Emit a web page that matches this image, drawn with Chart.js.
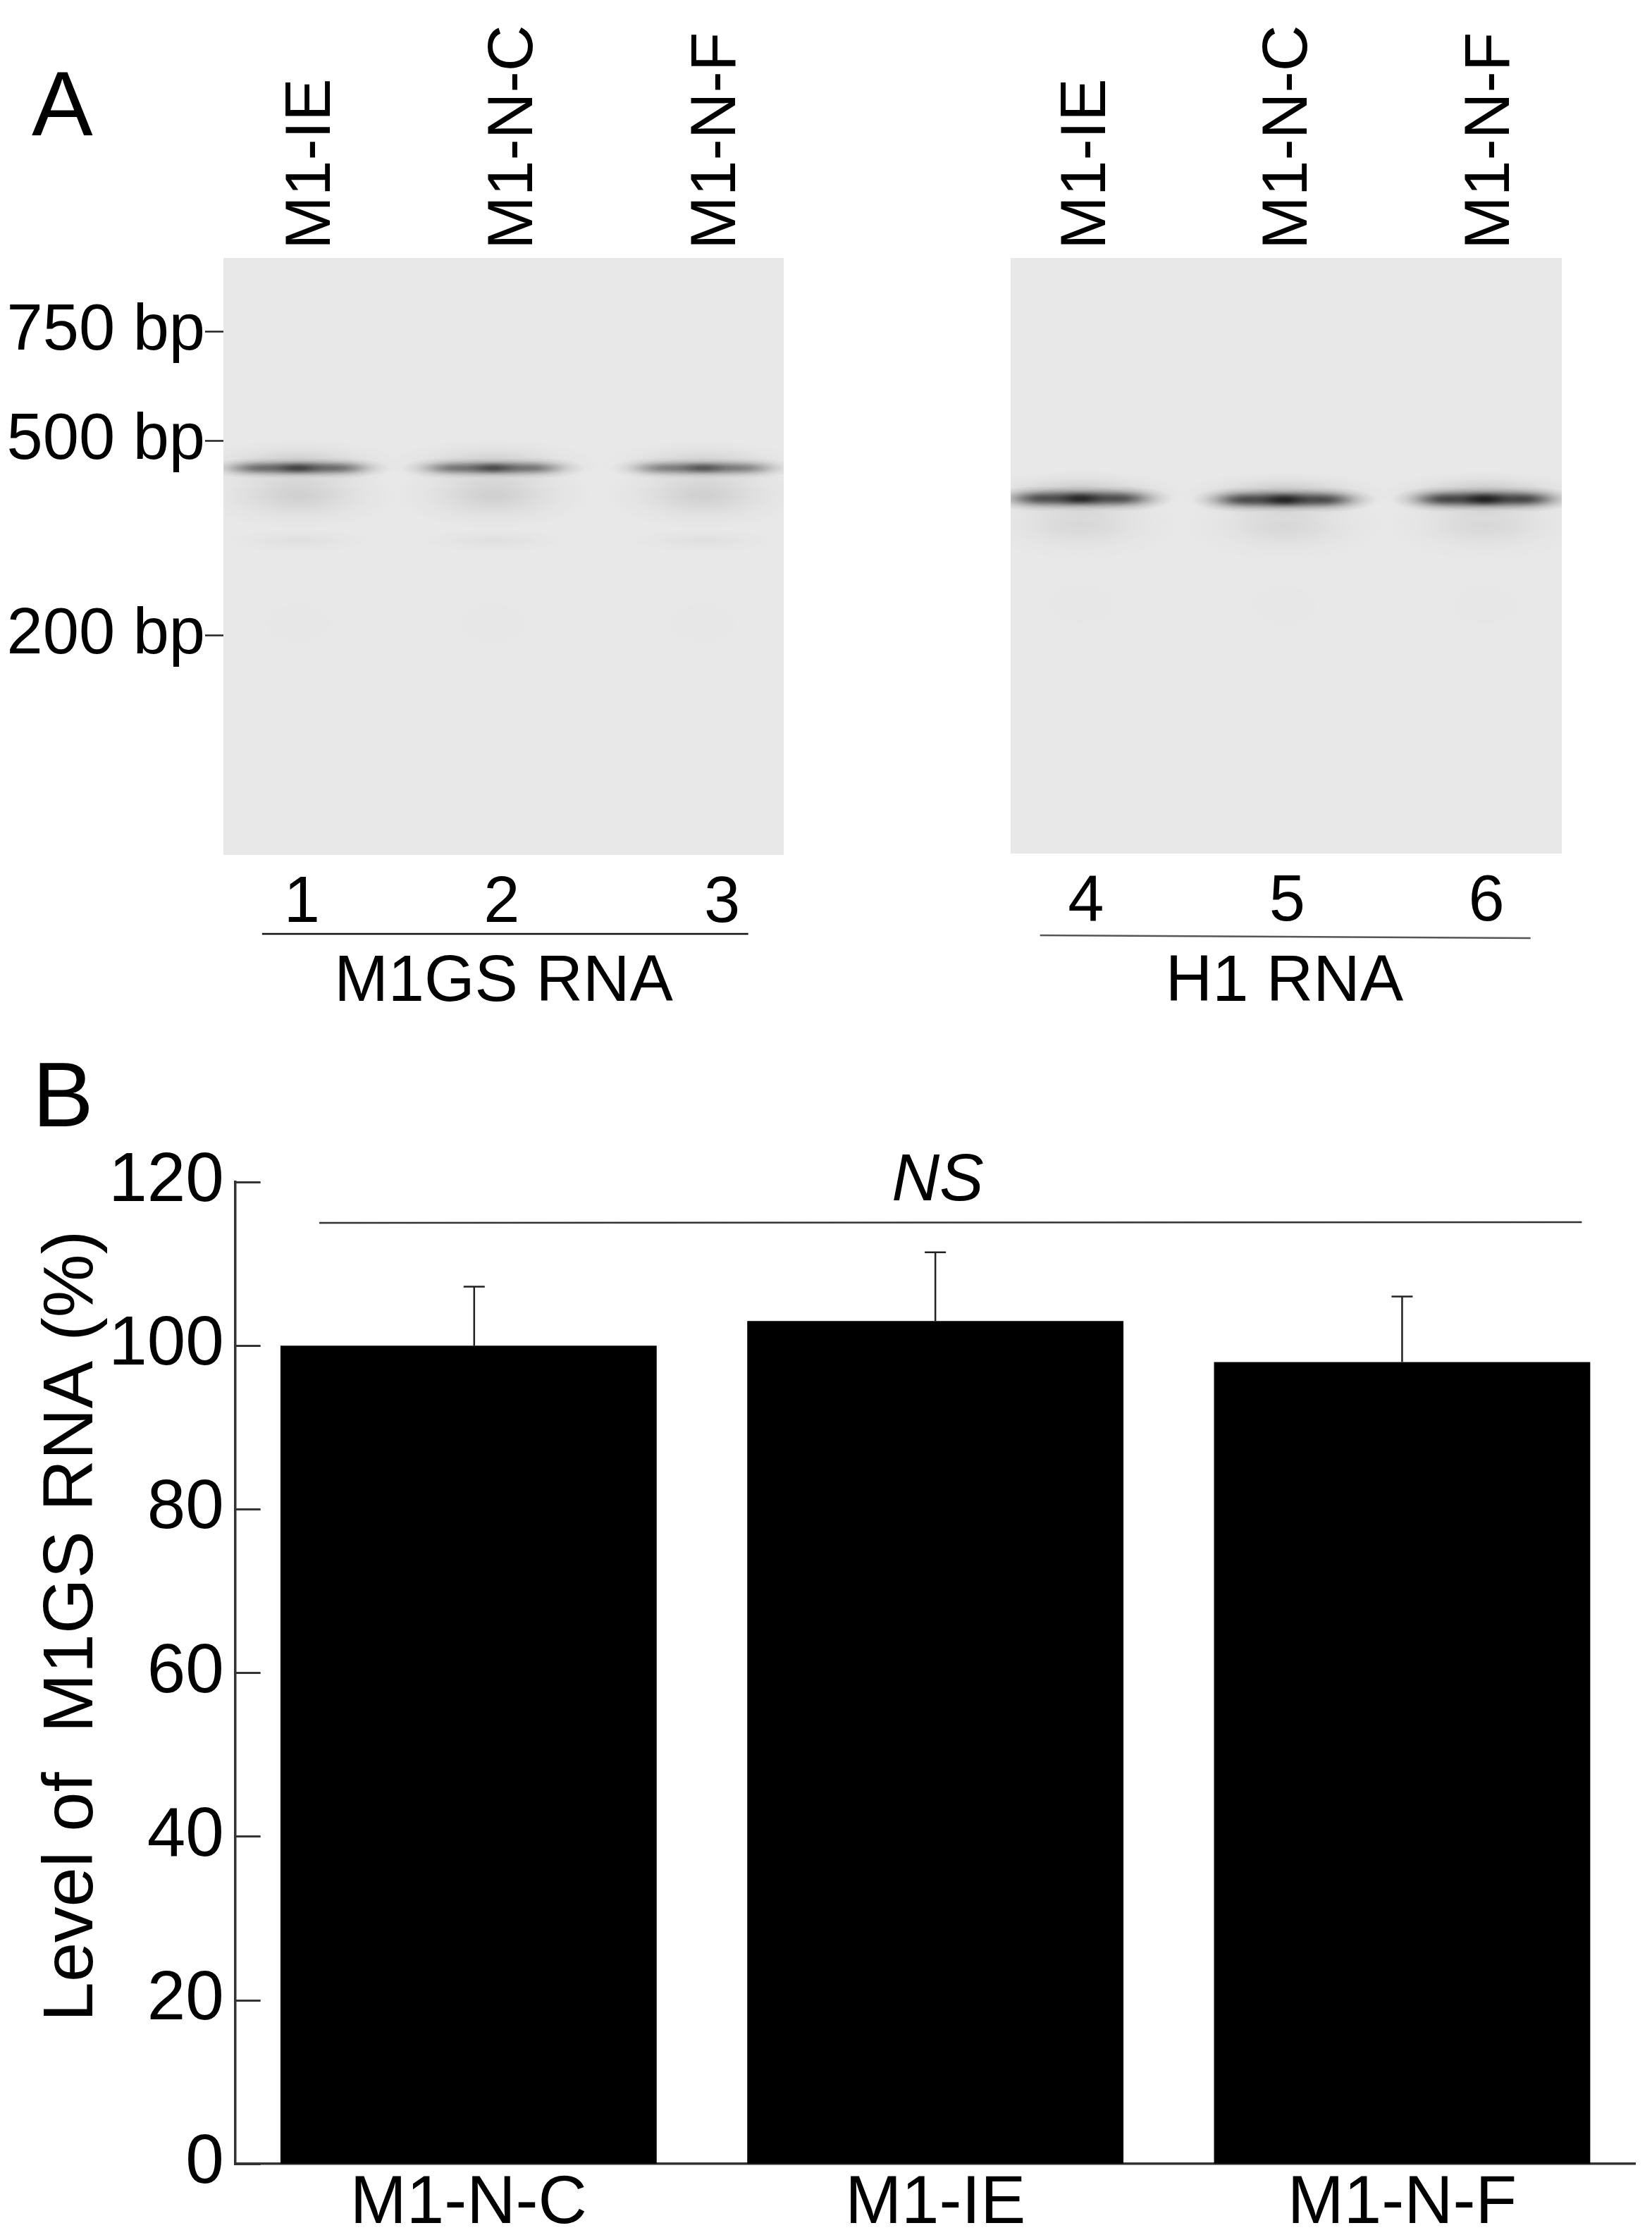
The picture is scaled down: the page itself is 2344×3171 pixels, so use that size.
<!DOCTYPE html>
<html>
<head>
<meta charset="utf-8">
<style>
html,body{margin:0;padding:0;background:#fff;width:2344px;height:3171px;overflow:hidden}
canvas{position:absolute;display:block}
</style>
<script src="https://cdn.jsdelivr.net/npm/chart.js@4/dist/chart.umd.min.js"></script>
</head>
<body>
<canvas id="gelA" width="1180" height="1445" style="left:0;top:0"></canvas>
<canvas id="gelB" width="1164" height="1445" style="left:1180px;top:0"></canvas>
<canvas id="bars" width="2344" height="1736" style="left:0;top:1445px"></canvas>
<script>
const FONT = '"Liberation Sans", Arial, sans-serif';

// Panel B
const barCategories = ['M1-N-C', 'M1-IE', 'M1-N-F'];
const barValues = [100, 103, 98];
const barErrors = [7.2, 8.4, 8];
const errorOffsets = [0.012, 0, 0];
const yTickStep = 20;
const yMax = 120;
const nsValue = 115;

// Panel A, left gel
const markerLabels = ['750 bp', '500 bp', '200 bp'];
const markerMigration = [12.3, 30.6, 63.2];
const gelALaneLabels = ['M1-IE', 'M1-N-C', 'M1-N-F'];
const gelALaneLabelPos = [0.478, 1.56, 2.65];
const gelANumbers = ['1', '2', '3'];
const gelANumberPos = [0.42, 1.49, 2.67];
const gelABandPos = [0.40, 1.445, 2.57];
const gelABandMigration = [35.2, 35.2, 35.2];
const gelABandIntensity = [1.0, 0.92, 0.82];

// Panel A, right gel
const gelBLaneLabels = ['M1-IE', 'M1-N-C', 'M1-N-F'];
const gelBLaneLabelPos = [0.42, 1.52, 2.62];
const gelBNumbers = ['4', '5', '6'];
const gelBNumberPos = [0.41, 1.505, 2.59];
const gelBBandPos = [0.38, 1.49, 2.58];
const gelBBandMigration = [40.4, 40.6, 40.5];
const gelBBandIntensity = [1.3, 1.35, 1.4];

function blob(ctx, x, y, rx, ry, alpha) {
  ctx.save();
  ctx.translate(x, y);
  ctx.scale(rx, ry);
  const g = ctx.createRadialGradient(0, 0, 0, 0, 0, 1);
  for (let i = 0; i <= 10; i++) {
    const t = i / 10;
    const a = i === 10 ? 0 : alpha * Math.exp(-t * t * 3.6);
    g.addColorStop(t, 'rgba(0,0,0,' + a.toFixed(4) + ')');
  }
  ctx.fillStyle = g;
  ctx.fillRect(-1, -1, 2, 2);
  ctx.restore();
}

function gelPlugin(style) {
  return {
    id: 'gel',
    beforeDatasetsDraw(chart) {
      const ctx = chart.ctx, a = chart.chartArea;
      ctx.save();
      ctx.fillStyle = '#e8e8e8';
      ctx.fillRect(a.left, a.top, a.right - a.left, a.bottom - a.top);
      ctx.beginPath();
      ctx.rect(a.left, a.top, a.right - a.left, a.bottom - a.top);
      ctx.clip();
      const pts = chart.getDatasetMeta(0).data;
      pts.forEach((p, i) => {
        const k = style.intensity[i];
        blob(ctx, p.x, p.y + style.hazeOffset, 145, style.hazeRy, style.haze);
        blob(ctx, p.x, p.y + style.trailOffset, 115, 18, style.trail);
        blob(ctx, p.x, p.y + style.faintOffset, 85, 50, 0.006);
        blob(ctx, p.x, p.y - 6, 150, 34, 0.12 * k);
        [-58, 0, 58].forEach(d => blob(ctx, p.x + d, p.y, 74, style.bandRy, 0.45 * k));
        blob(ctx, p.x, p.y, 58, style.coreRy, 0.35 * k);
      });
      ctx.restore();
    },
    afterDraw(chart) {
      const ctx = chart.ctx, xs = chart.scales.x;
      ctx.save();
      ctx.strokeStyle = style.lineColor;
      ctx.lineWidth = 2.5;
      ctx.beginPath();
      ctx.moveTo(xs.getPixelForValue(style.line[0]), style.lineY[0]);
      ctx.lineTo(xs.getPixelForValue(style.line[1]), style.lineY[1]);
      ctx.stroke();
      ctx.fillStyle = '#000';
      ctx.textAlign = 'center';
      ctx.textBaseline = 'middle';
      ctx.font = '92px ' + FONT;
      ctx.fillText(style.title, xs.getPixelForValue(style.titlePos), style.titleY);
      if (style.letter) {
        ctx.textAlign = 'left';
        ctx.font = '130px ' + FONT;
        ctx.fillText(style.letter, 45, 156);
      }
      ctx.restore();
    }
  };
}

function gelChart(id, cfg) {
  return new Chart(document.getElementById(id), {
    type: 'scatter',
    data: { datasets: [{
      data: cfg.bandPos.map((x, i) => ({ x: x, y: cfg.migration[i] })),
      pointRadius: 0, showLine: false
    }] },
    options: {
      responsive: false, animation: false,
      layout: { padding: cfg.padding },
      plugins: { legend: { display: false }, tooltip: { enabled: false } },
      scales: {
        x: {
          type: 'linear', position: 'bottom', min: 0, max: 3,
          afterBuildTicks: s => { s.ticks = cfg.numberPos.map(v => ({ value: v })); },
          afterFit: s => { s.height = 1445 - cfg.bottom; },
          ticks: { callback: (v, i) => cfg.numbers[i], color: '#000', autoSkip: false, maxRotation: 0, padding: 6, font: { family: FONT, size: 92 } },
          grid: { display: false }, border: { display: false }
        },
        xTop: {
          type: 'linear', position: 'top', axis: 'x', min: 0, max: 3,
          afterBuildTicks: s => { s.ticks = cfg.labelPos.map(v => ({ value: v })); },
          afterFit: s => { s.height = cfg.top; },
          ticks: { callback: (v, i) => cfg.labels[i], color: '#000', autoSkip: false, minRotation: 90, maxRotation: 90, padding: 4, font: { family: FONT, size: 91, lineHeight: 0.01 } },
          grid: { display: false }, border: { display: false }
        },
        y: {
          type: 'linear', min: 0, max: 100, reverse: true, display: cfg.showMarkers,
          afterBuildTicks: s => { s.ticks = markerMigration.map(v => ({ value: v })); },
          afterFit: s => { s.width = cfg.left; },
          ticks: { callback: (v, i) => markerLabels[i], color: '#000', autoSkip: false, padding: 0, font: { family: FONT, size: 92 } },
          grid: { drawOnChartArea: false, drawTicks: true, tickLength: 26, tickWidth: 2.5, tickColor: '#222' },
          border: { display: false }
        }
      }
    },
    plugins: [gelPlugin(cfg.style)]
  });
}

gelChart('gelA', {
  bandPos: gelABandPos, migration: gelABandMigration,
  numberPos: gelANumberPos, numbers: gelANumbers,
  labelPos: gelALaneLabelPos, labels: gelALaneLabels,
  padding: { right: 68, left: 0, top: 0, bottom: 0 },
  top: 366, bottom: 1213, left: 317, showMarkers: true,
  style: {
    intensity: gelABandIntensity, hazeOffset: 38, hazeRy: 50, haze: 0.10,
    trailOffset: 103, trail: 0.035, faintOffset: 220, bandRy: 15, coreRy: 11,
    line: [0.207, 2.81], lineY: [1325, 1325], lineColor: '#111',
    title: 'M1GS RNA', titlePos: 1.5, titleY: 1395, letter: 'A'
  }
});

gelChart('gelB', {
  bandPos: gelBBandPos, migration: gelBBandMigration,
  numberPos: gelBNumberPos, numbers: gelBNumbers,
  labelPos: gelBLaneLabelPos, labels: gelBLaneLabels,
  padding: { left: 254, right: 128, top: 0, bottom: 0 },
  top: 366, bottom: 1211, left: 0, showMarkers: false,
  style: {
    intensity: gelBBandIntensity, hazeOffset: 36, hazeRy: 52, haze: 0.07,
    trailOffset: 90, trail: 0.0, faintOffset: 150, bandRy: 18, coreRy: 12,
    line: [0.16, 2.83], lineY: [1327, 1331], lineColor: '#555',
    title: 'H1 RNA', titlePos: 1.49, titleY: 1395
  }
});

const barDecor = {
  id: 'barDecor',
  afterDatasetsDraw(chart) {
    const ctx = chart.ctx, xs = chart.scales.x, ys = chart.scales.y;
    ctx.save();
    ctx.strokeStyle = '#222';
    ctx.lineWidth = 2.5;
    barValues.forEach((v, i) => {
      const x = xs.getPixelForValue(i + errorOffsets[i]), t = ys.getPixelForValue(v + barErrors[i]), b = ys.getPixelForValue(v);
      ctx.beginPath();
      ctx.moveTo(x, b); ctx.lineTo(x, t);
      ctx.moveTo(x - 15, t); ctx.lineTo(x + 15, t);
      ctx.stroke();
    });
    ctx.strokeStyle = '#333';
    ctx.lineWidth = 2.5;
    const ny = ys.getPixelForValue(nsValue);
    ctx.beginPath();
    ctx.moveTo(xs.getPixelForValue(-0.32), ny);
    ctx.lineTo(xs.getPixelForValue(2.385), ny - 1);
    ctx.stroke();
    ctx.fillStyle = '#000';
    ctx.textAlign = 'center';
    ctx.textBaseline = 'middle';
    ctx.font = 'italic 94px ' + FONT;
    ctx.fillText('NS', xs.getPixelForValue(1.005), ys.getPixelForValue(120));
    ctx.textAlign = 'left';
    ctx.font = '130px ' + FONT;
    ctx.fillText('B', 46, 1562 - 1445);
    ctx.save();
    ctx.translate(103, 2307 - 1445);
    ctx.rotate(-Math.PI / 2);
    ctx.font = '101px ' + FONT;
    ctx.textAlign = 'center';
    ctx.fillText('Level of  M1GS RNA (%)', 0, 0);
    ctx.restore();
    ctx.restore();
  }
};

new Chart(document.getElementById('bars'), {
  type: 'bar',
  data: {
    labels: barCategories,
    datasets: [{ data: barValues, backgroundColor: '#000', borderWidth: 0, barPercentage: 0.806, categoryPercentage: 1 }]
  },
  options: {
    responsive: false, animation: false,
    layout: { padding: { top: 232, right: 23.4, left: 0, bottom: 0 } },
    plugins: { legend: { display: false }, tooltip: { enabled: false } },
    scales: {
      x: {
        afterFit: s => { s.height = 88; },
        ticks: { color: '#000', padding: 0, maxRotation: 0, font: { family: FONT, size: 96 } },
        grid: { display: false, drawTicks: false },
        border: { display: true, color: '#333', width: 3.5 }
      },
      y: {
        min: 0, max: yMax,
        afterFit: s => { s.width = 333.7; },
        ticks: { stepSize: yTickStep, color: '#000', padding: 52, font: { family: FONT, size: 98 } },
        grid: { drawOnChartArea: false, drawTicks: true, tickLength: -36, tickWidth: 3, tickColor: '#333' },
        border: { display: true, color: '#333', width: 3.5 }
      }
    }
  },
  plugins: [barDecor]
});
</script>
</body>
</html>
